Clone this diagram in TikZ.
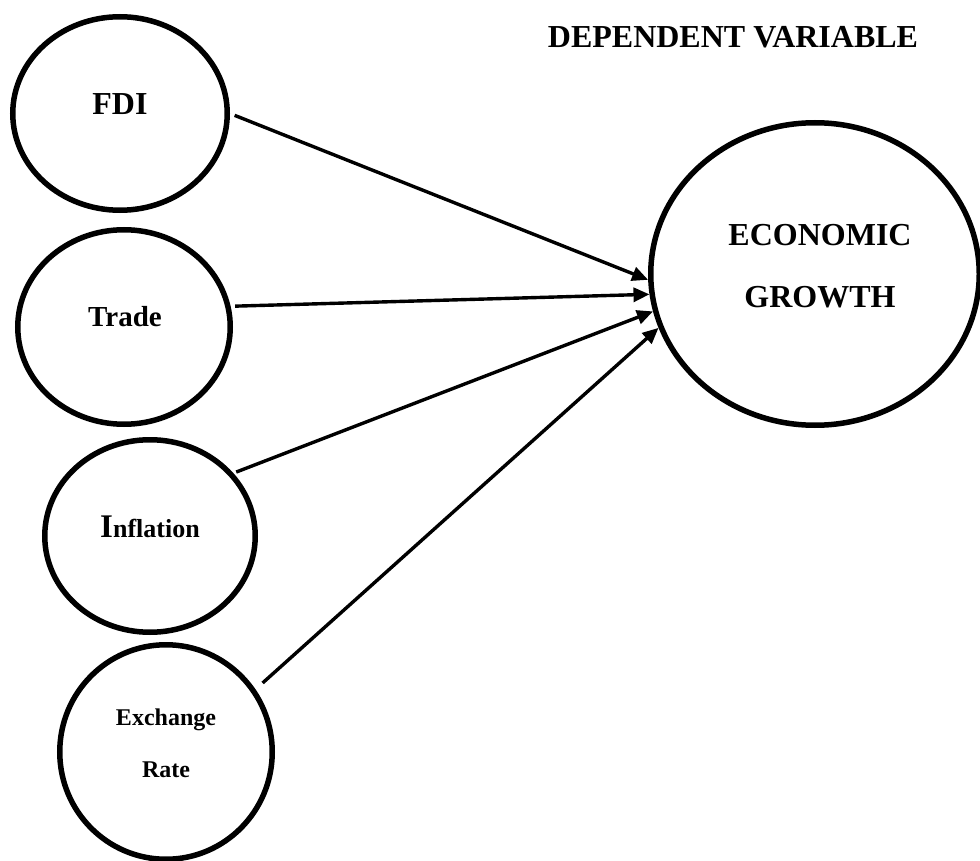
\documentclass[tikz,border=0pt]{standalone}
\usepackage{fontspec}
\setmainfont{Liberation Serif}
\usetikzlibrary{arrows.meta,shapes.geometric}
\begin{document}
\begin{tikzpicture}[x=1pt,y=-1pt,
  bubble/.style={ellipse,draw,line width=5.5pt,inner sep=0pt},
  lbl/.style={anchor=base,inner sep=0pt,font=\bfseries#1},
  conn/.style={line width=3.4pt,-{Triangle[length=16pt,width=14pt]}}]
\useasboundingbox (0,0) rectangle (980,861);
% ellipses
\node[bubble,minimum width=214.5pt,minimum height=193.5pt] (fdi) at (120,113.5) {};
\node[bubble,minimum width=212.5pt,minimum height=194.5pt] (trade) at (124,327) {};
\node[bubble,minimum width=210.5pt,minimum height=192.5pt] (infl) at (150,536) {};
\node[bubble,minimum width=212.5pt,minimum height=214.5pt] (exch) at (166,752) {};
\node[bubble,minimum width=328.5pt,minimum height=302.5pt] (eg) at (815,274) {};
% labels
\node[lbl={\fontsize{32}{38}\selectfont}] (title) at (733,48) {DEPENDENT VARIABLE};
\node[lbl={\fontsize{32}{38}\selectfont}] (fdit) at (120,115) {FDI};
\node[lbl={\fontsize{29}{34}\selectfont}] (tradet) at (125,326) {Trade};
\node[lbl={\fontsize{26}{31}\selectfont}] (inflt) at (150,537) {{\fontsize{33}{38}\selectfont I}nflation};
\node[lbl={\fontsize{24}{29}\selectfont}] (exch1) at (166,725) {Exchange};
\node[lbl={\fontsize{24}{29}\selectfont}] (exch2) at (166,777) {Rate};
\node[lbl={\fontsize{32}{38}\selectfont}] (eg1) at (820,245) {ECONOMIC};
\node[lbl={\fontsize{32}{38}\selectfont}] (eg2) at (820,307) {GROWTH};
% connectors
\draw[conn,shorten <=5pt] (fdi.0.7) -- (eg.182.7);
\draw[conn,shorten <=4.5pt] (trade.11.2) -- (eg.187.5);
\draw[conn,shorten <=3pt] (infl.37.8) -- (eg.193.5);
\draw[conn,shorten <=9.5pt] (exch.35.4) -- (eg.199);
\end{tikzpicture}
\end{document}
